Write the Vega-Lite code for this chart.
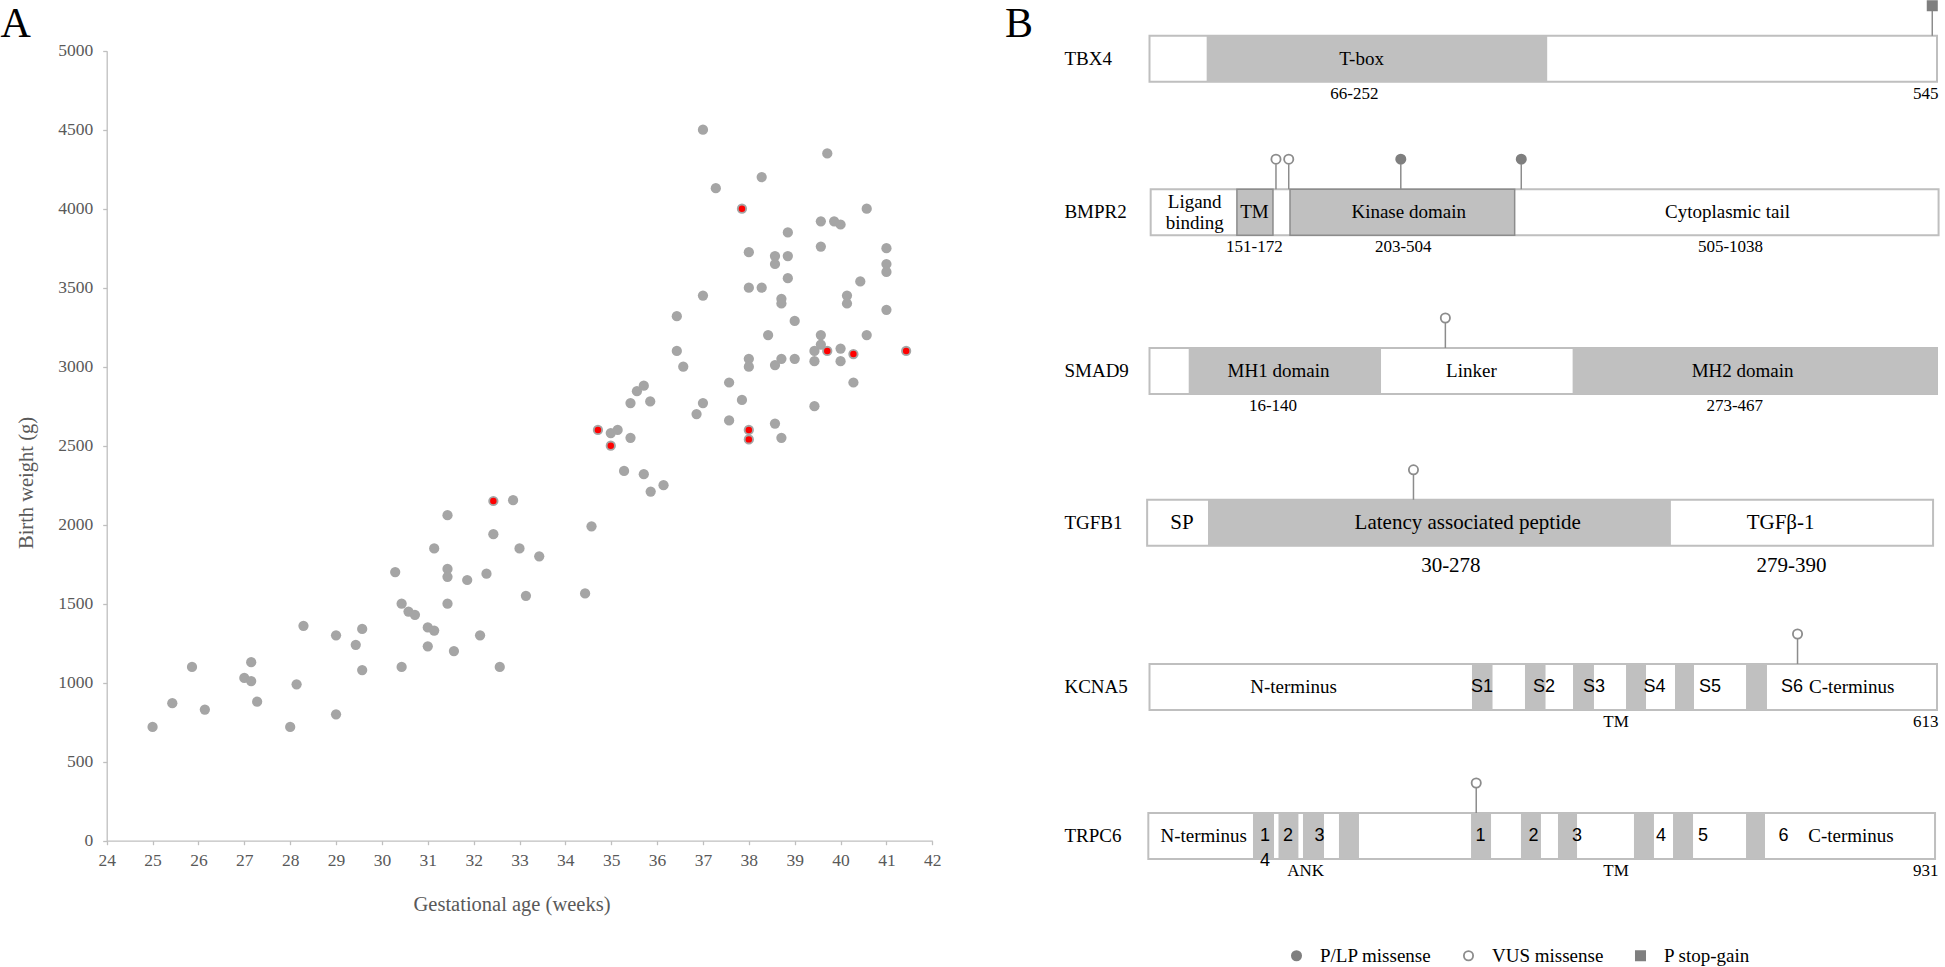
{
  "$schema": "https://vega.github.io/schema/vega-lite/v6.json",
  "width": 1945,
  "height": 967,
  "autosize": {"type": "none"},
  "padding": 0,
  "background": "#ffffff",
  "config": {"view": {"stroke": null}, "font": "Liberation Serif"},
  "datasets": {
    "births": [
      {"ga":25.0,"bw":720,"hl":false},{"ga":25.43,"bw":870,"hl":false},{"ga":25.86,"bw":1100,"hl":false},{"ga":26.14,"bw":830,"hl":false},
      {"ga":27.0,"bw":1030,"hl":false},{"ga":27.15,"bw":1130,"hl":false},{"ga":27.15,"bw":1010,"hl":false},{"ga":27.28,"bw":880,"hl":false},
      {"ga":28.0,"bw":720,"hl":false},{"ga":28.14,"bw":990,"hl":false},{"ga":28.29,"bw":1360,"hl":false},{"ga":29.0,"bw":1300,"hl":false},
      {"ga":29.0,"bw":800,"hl":false},{"ga":29.43,"bw":1240,"hl":false},{"ga":29.57,"bw":1340,"hl":false},{"ga":29.57,"bw":1080,"hl":false},
      {"ga":30.29,"bw":1700,"hl":false},{"ga":30.43,"bw":1500,"hl":false},{"ga":30.43,"bw":1100,"hl":false},{"ga":30.58,"bw":1450,"hl":false},
      {"ga":30.72,"bw":1430,"hl":false},{"ga":31.0,"bw":1350,"hl":false},{"ga":31.0,"bw":1230,"hl":false},{"ga":31.14,"bw":1850,"hl":false},
      {"ga":31.14,"bw":1330,"hl":false},{"ga":31.43,"bw":2060,"hl":false},{"ga":31.43,"bw":1720,"hl":false},{"ga":31.43,"bw":1670,"hl":false},
      {"ga":31.43,"bw":1500,"hl":false},{"ga":31.57,"bw":1200,"hl":false},{"ga":31.86,"bw":1650,"hl":false},{"ga":32.14,"bw":1300,"hl":false},
      {"ga":32.28,"bw":1690,"hl":false},{"ga":32.43,"bw":2150,"hl":true},{"ga":32.43,"bw":1940,"hl":false},{"ga":32.57,"bw":1100,"hl":false},
      {"ga":32.86,"bw":2155,"hl":false},{"ga":33.0,"bw":1850,"hl":false},{"ga":33.14,"bw":1550,"hl":false},{"ga":33.43,"bw":1800,"hl":false},
      {"ga":34.43,"bw":1565,"hl":false},{"ga":34.57,"bw":1990,"hl":false},
      {"ga":34.71,"bw":2600,"hl":true},{"ga":34.99,"bw":2500,"hl":true},{"ga":34.99,"bw":2580,"hl":false},{"ga":35.14,"bw":2600,"hl":false},
      {"ga":35.28,"bw":2340,"hl":false},{"ga":35.42,"bw":2550,"hl":false},{"ga":35.42,"bw":2770,"hl":false},{"ga":35.56,"bw":2845,"hl":false},
      {"ga":35.71,"bw":2880,"hl":false},{"ga":35.71,"bw":2320,"hl":false},{"ga":35.85,"bw":2780,"hl":false},{"ga":35.86,"bw":2210,"hl":false},
      {"ga":36.14,"bw":2250,"hl":false},{"ga":36.43,"bw":3320,"hl":false},{"ga":36.43,"bw":3100,"hl":false},{"ga":36.57,"bw":3000,"hl":false},
      {"ga":36.86,"bw":2700,"hl":false},{"ga":37.0,"bw":2770,"hl":false},{"ga":37.0,"bw":3450,"hl":false},{"ga":37.0,"bw":4500,"hl":false},
      {"ga":37.28,"bw":4130,"hl":false},{"ga":37.57,"bw":2900,"hl":false},{"ga":37.57,"bw":2660,"hl":false},{"ga":37.85,"bw":2790,"hl":false},
      {"ga":37.85,"bw":4000,"hl":true},{"ga":38.0,"bw":3725,"hl":false},{"ga":38.0,"bw":3500,"hl":false},{"ga":38.0,"bw":3050,"hl":false},
      {"ga":38.0,"bw":3000,"hl":false},{"ga":38.0,"bw":2600,"hl":true},{"ga":38.0,"bw":2540,"hl":true},{"ga":38.28,"bw":4200,"hl":false},
      {"ga":38.28,"bw":3500,"hl":false},{"ga":38.42,"bw":3200,"hl":false},{"ga":38.57,"bw":3700,"hl":false},{"ga":38.57,"bw":3650,"hl":false},
      {"ga":38.57,"bw":3010,"hl":false},{"ga":38.57,"bw":2640,"hl":false},{"ga":38.71,"bw":3430,"hl":false},{"ga":38.71,"bw":3400,"hl":false},
      {"ga":38.71,"bw":3050,"hl":false},{"ga":38.71,"bw":2550,"hl":false},{"ga":38.85,"bw":3850,"hl":false},{"ga":38.85,"bw":3700,"hl":false},
      {"ga":38.85,"bw":3560,"hl":false},{"ga":39.0,"bw":3290,"hl":false},{"ga":39.0,"bw":3050,"hl":false},{"ga":39.43,"bw":3100,"hl":false},
      {"ga":39.43,"bw":3035,"hl":false},{"ga":39.43,"bw":2750,"hl":false},{"ga":39.57,"bw":3920,"hl":false},{"ga":39.57,"bw":3760,"hl":false},
      {"ga":39.57,"bw":3200,"hl":false},{"ga":39.57,"bw":3140,"hl":false},{"ga":39.71,"bw":4350,"hl":false},{"ga":39.71,"bw":3100,"hl":true},
      {"ga":39.86,"bw":3920,"hl":false},{"ga":40.0,"bw":3900,"hl":false},{"ga":40.0,"bw":3115,"hl":false},{"ga":40.0,"bw":3035,"hl":false},
      {"ga":40.14,"bw":3450,"hl":false},{"ga":40.14,"bw":3400,"hl":false},{"ga":40.28,"bw":3080,"hl":true},{"ga":40.28,"bw":2900,"hl":false},
      {"ga":40.43,"bw":3540,"hl":false},{"ga":40.57,"bw":4000,"hl":false},{"ga":40.57,"bw":3200,"hl":false},{"ga":41.0,"bw":3750,"hl":false},
      {"ga":41.0,"bw":3650,"hl":false},{"ga":41.0,"bw":3600,"hl":false},{"ga":41.0,"bw":3360,"hl":false},{"ga":41.43,"bw":3100,"hl":true}
    ],
    "proteins": [
      {"gene":"TBX4","row":0,"pos":0,"end":100},
      {"gene":"BMPR2","row":1,"pos":0.15,"end":100.2},
      {"gene":"SMAD9","row":2,"pos":0,"end":100},
      {"gene":"TGFB1","row":3,"pos":-0.3,"end":99.5},
      {"gene":"KCNA5","row":4,"pos":0,"end":100},
      {"gene":"TRPC6","row":5,"pos":-0.15,"end":99.75}
    ],
    "domains": [
      {"gene":"TBX4","row":0,"pos":7.26,"end":50.5},
      {"gene":"BMPR2","row":1,"pos":11.1,"end":15.68},
      {"gene":"BMPR2","row":1,"pos":17.84,"end":46.37},
      {"gene":"SMAD9","row":2,"pos":4.98,"end":29.4},
      {"gene":"SMAD9","row":2,"pos":53.73,"end":100},
      {"gene":"TGFB1","row":3,"pos":7.43,"end":66.21},
      {"gene":"KCNA5","row":4,"pos":40.95,"end":43.56},
      {"gene":"KCNA5","row":4,"pos":47.68,"end":50.29},
      {"gene":"KCNA5","row":4,"pos":53.78,"end":56.44},
      {"gene":"KCNA5","row":4,"pos":60.51,"end":63.05},
      {"gene":"KCNA5","row":4,"pos":66.73,"end":69.14},
      {"gene":"KCNA5","row":4,"pos":75.75,"end":78.41},
      {"gene":"TRPC6","row":5,"pos":13.14,"end":15.81},
      {"gene":"TRPC6","row":5,"pos":16.38,"end":18.91},
      {"gene":"TRPC6","row":5,"pos":19.49,"end":22.16},
      {"gene":"TRPC6","row":5,"pos":24.06,"end":26.6},
      {"gene":"TRPC6","row":5,"pos":40.83,"end":43.37},
      {"gene":"TRPC6","row":5,"pos":47.17,"end":49.71},
      {"gene":"TRPC6","row":5,"pos":51.87,"end":54.29},
      {"gene":"TRPC6","row":5,"pos":61.52,"end":64.06},
      {"gene":"TRPC6","row":5,"pos":66.48,"end":69.02},
      {"gene":"TRPC6","row":5,"pos":75.75,"end":78.16}
    ],
    "variants": [
      {"gene":"TBX4","row":0,"pos":99.4,"type":"P stop-gain"},
      {"gene":"BMPR2","row":1,"pos":16.06,"type":"VUS missense"},
      {"gene":"BMPR2","row":1,"pos":17.68,"type":"VUS missense"},
      {"gene":"BMPR2","row":1,"pos":31.91,"type":"P/LP missense"},
      {"gene":"BMPR2","row":1,"pos":47.21,"type":"P/LP missense"},
      {"gene":"SMAD9","row":2,"pos":37.57,"type":"VUS missense"},
      {"gene":"TGFB1","row":3,"pos":33.52,"type":"VUS missense"},
      {"gene":"KCNA5","row":4,"pos":82.29,"type":"VUS missense"},
      {"gene":"TRPC6","row":5,"pos":41.49,"type":"VUS missense"}
    ],
    "labels": [
      {"kind":"panel","row":-0.139,"pos":-145.9,"text":"A"},
      {"kind":"panel","row":-0.139,"pos":-18.35,"text":"B"},
      {"kind":"gene","row":0,"pos":-10.8,"text":"TBX4"},
      {"kind":"gene","row":1,"pos":-10.8,"text":"BMPR2"},
      {"kind":"gene","row":2,"pos":-10.8,"text":"SMAD9"},
      {"kind":"gene","row":3,"pos":-10.8,"text":"TGFB1"},
      {"kind":"gene","row":4,"pos":-10.8,"text":"KCNA5"},
      {"kind":"gene","row":5,"pos":-10.8,"text":"TRPC6"},
      {"kind":"domain","row":0,"pos":26.93,"text":"T-box"},
      {"kind":"twoline","row":1,"pos":5.74,"text":"Ligand\nbinding"},
      {"kind":"domain","row":1,"pos":13.32,"text":"TM"},
      {"kind":"domain","row":1,"pos":32.91,"text":"Kinase domain"},
      {"kind":"domain","row":1,"pos":73.4,"text":"Cytoplasmic tail"},
      {"kind":"domain","row":2,"pos":16.38,"text":"MH1 domain"},
      {"kind":"domain","row":2,"pos":40.88,"text":"Linker"},
      {"kind":"domain","row":2,"pos":75.31,"text":"MH2 domain"},
      {"kind":"domain","row":4,"pos":18.29,"text":"N-terminus"},
      {"kind":"domain","row":4,"pos":89.17,"text":"C-terminus"},
      {"kind":"domain","row":5,"pos":6.88,"text":"N-terminus"},
      {"kind":"domain","row":5,"pos":89.08,"text":"C-terminus"},
      {"kind":"big","row":3,"pos":4.13,"text":"SP"},
      {"kind":"big","row":3,"pos":40.41,"text":"Latency associated peptide"},
      {"kind":"big","row":3,"pos":80.14,"text":"TGFβ-1"},
      {"kind":"range","row":0,"pos":26.02,"text":"66-252"},
      {"kind":"range","row":1,"pos":13.32,"text":"151-172"},
      {"kind":"range","row":1,"pos":32.22,"text":"203-504"},
      {"kind":"range","row":1,"pos":73.78,"text":"505-1038"},
      {"kind":"range","row":2,"pos":15.68,"text":"16-140"},
      {"kind":"range","row":2,"pos":74.32,"text":"273-467"},
      {"kind":"range","row":4,"pos":59.24,"text":"TM"},
      {"kind":"range","row":5,"pos":19.82,"text":"ANK"},
      {"kind":"range","row":5,"pos":59.24,"text":"TM"},
      {"kind":"bigrange","row":3,"pos":38.27,"text":"30-278"},
      {"kind":"bigrange","row":3,"pos":81.51,"text":"279-390"},
      {"kind":"length","row":0,"pos":100.2,"text":"545"},
      {"kind":"length","row":4,"pos":100.2,"text":"613"},
      {"kind":"length","row":5,"pos":100.2,"text":"931"},
      {"kind":"sans","row":4,"pos":42.22,"text":"S1"},
      {"kind":"sans","row":4,"pos":50.1,"text":"S2"},
      {"kind":"sans","row":4,"pos":56.44,"text":"S3"},
      {"kind":"sans","row":4,"pos":64.14,"text":"S4"},
      {"kind":"sans","row":4,"pos":71.17,"text":"S5"},
      {"kind":"sans","row":4,"pos":81.59,"text":"S6"},
      {"kind":"sans","row":5,"pos":14.67,"text":"1"},
      {"kind":"sans","row":5,"pos":17.59,"text":"2"},
      {"kind":"sans","row":5,"pos":21.59,"text":"3"},
      {"kind":"sans","row":5,"pos":42.02,"text":"1"},
      {"kind":"sans","row":5,"pos":48.76,"text":"2"},
      {"kind":"sans","row":5,"pos":54.29,"text":"3"},
      {"kind":"sans","row":5,"pos":64.95,"text":"4"},
      {"kind":"sans","row":5,"pos":70.29,"text":"5"},
      {"kind":"sans","row":5,"pos":80.52,"text":"6"},
      {"kind":"sansbelow","row":5,"pos":14.67,"text":"4"}
    ]
  },
  "resolve": {"scale": {"x": "independent", "y": "independent"}, "axis": {"x": "independent", "y": "independent"}},
  "layer": [
    {
      "data": {"name": "births"},
      "encoding": {
        "x": {
          "field": "ga", "type": "quantitative",
          "scale": {"domain": [24, 42], "range": [106.7, 932.3], "nice": false, "zero": false},
          "axis": {
            "values": [24,25,26,27,28,29,30,31,32,33,34,35,36,37,38,39,40,41,42],
            "format": "d", "offset": -126.3, "grid": false,
            "domainColor": "#BFBFBF", "domainWidth": 1.3, "tickColor": "#BFBFBF", "tickSize": 4, "tickWidth": 1.3,
            "labelFont": "Liberation Serif", "labelFontSize": 17.5, "labelColor": "#595959", "labelPadding": 7,
            "labelFlush": false, "labelOverlap": false, "labelAngle": 0,
            "title": "Gestational age (weeks)", "titleFont": "Liberation Serif", "titleFontSize": 20.5,
            "titleFontWeight": "normal", "titleColor": "#595959",
            "titleX": 511.5, "titleY": 63.3, "titleAlign": "center", "titleBaseline": "middle"
          }
        },
        "y": {
          "field": "bw", "type": "quantitative",
          "scale": {"domain": [0, 5000], "range": [840.7, 50.7], "nice": false, "zero": false},
          "axis": {
            "values": [0,500,1000,1500,2000,2500,3000,3500,4000,4500,5000],
            "format": "d", "offset": -106.7, "grid": false,
            "domainColor": "#BFBFBF", "domainWidth": 1.3, "tickColor": "#BFBFBF", "tickSize": 4, "tickWidth": 1.3,
            "labelFont": "Liberation Serif", "labelFontSize": 17.5, "labelColor": "#595959", "labelPadding": 10,
            "labelFlush": false, "labelOverlap": false,
            "title": "Birth weight (g)", "titleFont": "Liberation Serif", "titleFontSize": 20.5,
            "titleFontWeight": "normal", "titleColor": "#595959",
            "titleX": -79.9, "titleY": 482.5, "titleAngle": -90, "titleAlign": "center", "titleBaseline": "middle"
          }
        }
      },
      "layer": [
        {"mark": {"type": "circle", "size": 105, "color": "#A5A5A5", "opacity": 1}},
        {"transform": [{"filter": "datum.hl"}], "mark": {"type": "circle", "size": 42, "color": "#FF0000", "opacity": 1}}
      ]
    },
    {
      "encoding": {
        "x": {"field": "pos", "type": "quantitative", "scale": {"domain": [0, 100], "range": [1149.5, 1937], "nice": false, "zero": false}, "axis": null},
        "y": {"field": "row", "type": "quantitative", "scale": {"domain": [0, 1, 2, 3, 4, 5], "range": [58.8, 212.2, 371, 522.8, 687, 836], "nice": false, "zero": false}, "axis": null}
      },
      "layer": [
        {"data": {"name": "proteins"}, "mark": {"type": "rect", "fill": "#FFFFFF", "stroke": "#BFBFBF", "strokeWidth": 2, "yOffset": -23, "y2Offset": 23},
         "encoding": {"x2": {"field": "end"}, "y2": {"field": "row"}}},
        {"data": {"name": "domains"}, "mark": {"type": "rect", "fill": "#C0C0C0", "yOffset": -23, "y2Offset": 23},
         "encoding": {"x2": {"field": "end"}, "y2": {"field": "row"}}},
        {"data": {"name": "domains"}, "transform": [{"filter": "datum.gene == 'BMPR2'"}],
         "mark": {"type": "rect", "fill": "#C0C0C0", "stroke": "#8C8C8C", "strokeWidth": 1.5, "yOffset": -23, "y2Offset": 23},
         "encoding": {"x2": {"field": "end"}, "y2": {"field": "row"}}},
        {"data": {"name": "variants"}, "mark": {"type": "rule", "color": "#8C8C8C", "strokeWidth": 1.5, "yOffset": -23, "y2Offset": -48},
         "encoding": {"y2": {"field": "row"}}},
        {"data": {"name": "variants"}, "mark": {"type": "point", "filled": true, "size": 85, "strokeWidth": 1.8, "opacity": 1, "yOffset": -53},
         "encoding": {
           "fill": {"field": "type", "type": "nominal",
             "scale": {"domain": ["P/LP missense", "VUS missense", "P stop-gain"], "range": ["#7F7F7F", "#FFFFFF", "#7F7F7F"]},
             "legend": {"orient": "none", "legendX": 1287, "legendY": 946, "direction": "horizontal", "title": null,
               "labelFont": "Liberation Serif", "labelFontSize": 19, "labelColor": "#000000",
               "symbolSize": 85, "symbolStrokeWidth": 1.8, "labelOffset": 14, "columnPadding": 27, "padding": 0}},
           "stroke": {"field": "type", "type": "nominal",
             "scale": {"domain": ["P/LP missense", "VUS missense", "P stop-gain"], "range": ["#7F7F7F", "#8C8C8C", "#7F7F7F"]}},
           "shape": {"field": "type", "type": "nominal",
             "scale": {"domain": ["P/LP missense", "VUS missense", "P stop-gain"], "range": ["circle", "circle", "square"]}}
         }},
        {"data": {"name": "labels"}, "transform": [{"filter": "datum.kind == 'panel'"}],
         "mark": {"type": "text", "font": "Liberation Serif", "fontSize": 42, "align": "left", "baseline": "alphabetic", "color": "#000000"},
         "encoding": {"text": {"field": "text"}}},
        {"data": {"name": "labels"}, "transform": [{"filter": "datum.kind == 'gene'"}],
         "mark": {"type": "text", "font": "Liberation Serif", "fontSize": 19, "align": "left", "baseline": "middle", "color": "#000000"},
         "encoding": {"text": {"field": "text"}}},
        {"data": {"name": "labels"}, "transform": [{"filter": "datum.kind == 'domain'"}],
         "mark": {"type": "text", "font": "Liberation Serif", "fontSize": 19, "align": "center", "baseline": "middle", "color": "#000000"},
         "encoding": {"text": {"field": "text"}}},
        {"data": {"name": "labels"}, "transform": [{"filter": "datum.kind == 'twoline'"}],
         "mark": {"type": "text", "font": "Liberation Serif", "fontSize": 19, "align": "center", "baseline": "middle", "color": "#000000", "lineBreak": "\n", "lineHeight": 21.5, "dy": -10.5},
         "encoding": {"text": {"field": "text"}}},
        {"data": {"name": "labels"}, "transform": [{"filter": "datum.kind == 'big'"}],
         "mark": {"type": "text", "font": "Liberation Serif", "fontSize": 21, "align": "center", "baseline": "middle", "color": "#000000"},
         "encoding": {"text": {"field": "text"}}},
        {"data": {"name": "labels"}, "transform": [{"filter": "datum.kind == 'range'"}],
         "mark": {"type": "text", "font": "Liberation Serif", "fontSize": 17, "align": "center", "baseline": "middle", "color": "#000000", "dy": 35},
         "encoding": {"text": {"field": "text"}}},
        {"data": {"name": "labels"}, "transform": [{"filter": "datum.kind == 'bigrange'"}],
         "mark": {"type": "text", "font": "Liberation Serif", "fontSize": 21, "align": "center", "baseline": "middle", "color": "#000000", "dy": 43},
         "encoding": {"text": {"field": "text"}}},
        {"data": {"name": "labels"}, "transform": [{"filter": "datum.kind == 'length'"}],
         "mark": {"type": "text", "font": "Liberation Serif", "fontSize": 17, "align": "right", "baseline": "middle", "color": "#000000", "dy": 35},
         "encoding": {"text": {"field": "text"}}},
        {"data": {"name": "labels"}, "transform": [{"filter": "datum.kind == 'sans'"}],
         "mark": {"type": "text", "font": "Liberation Sans", "fontSize": 18, "align": "center", "baseline": "middle", "color": "#000000"},
         "encoding": {"text": {"field": "text"}}},
        {"data": {"name": "labels"}, "transform": [{"filter": "datum.kind == 'sansbelow'"}],
         "mark": {"type": "text", "font": "Liberation Sans", "fontSize": 18, "align": "center", "baseline": "middle", "color": "#000000", "dy": 25},
         "encoding": {"text": {"field": "text"}}}
      ]
    }
  ]
}
